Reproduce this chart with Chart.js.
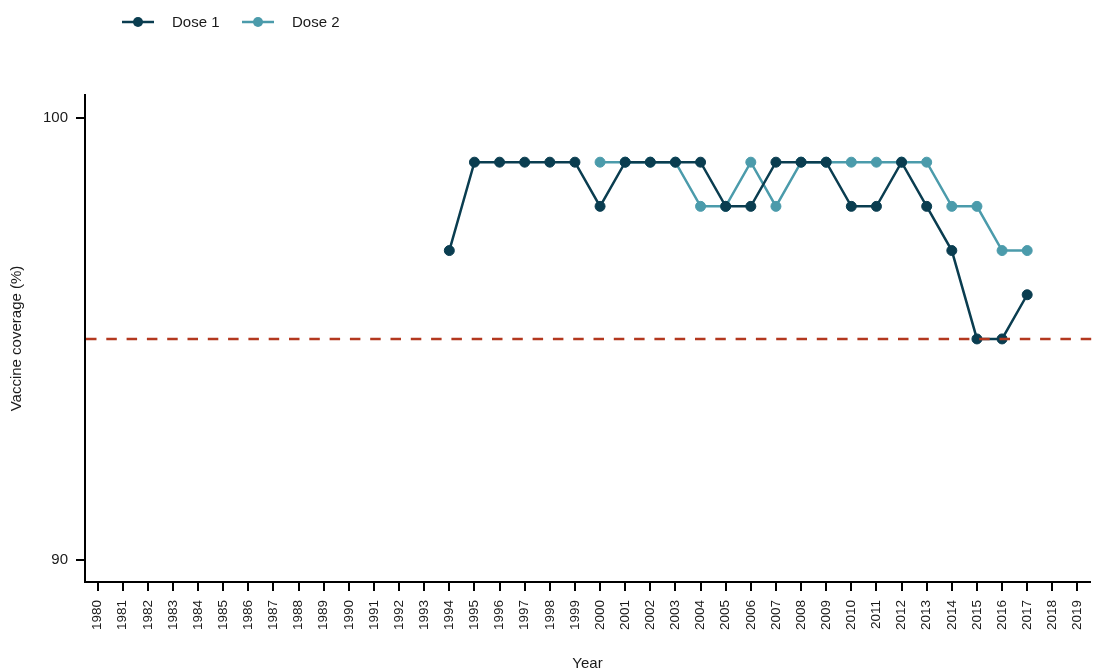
<!DOCTYPE html>
<html lang="en">
<head>
    <meta charset="UTF-8">
    <title>Vaccine coverage</title>
    <script src="https://cdn.jsdelivr.net/npm/chart.js"></script>
    <style>
        body { margin: 0; background: #fff; }
    </style>
</head>
<body>
    <canvas id="myChart" width="1096" height="669"></canvas>

    <script>
        // Year categories on the x axis
        const years = ['1980', '1981', '1982', '1983', '1984', '1985', '1986', '1987', '1988', '1989',
                       '1990', '1991', '1992', '1993', '1994', '1995', '1996', '1997', '1998', '1999',
                       '2000', '2001', '2002', '2003', '2004', '2005', '2006', '2007', '2008', '2009',
                       '2010', '2011', '2012', '2013', '2014', '2015', '2016', '2017', '2018', '2019'];

        // Coverage (%) by year, first dose
        const dose1Years = ['1994', '1995', '1996', '1997', '1998', '1999', '2000', '2001', '2002', '2003', '2004', '2005',
                            '2006', '2007', '2008', '2009', '2010', '2011', '2012', '2013', '2014', '2015', '2016', '2017'];
        const dose1Values = [97, 99, 99, 99, 99, 99, 98, 99, 99, 99, 99, 98,
                             98, 99, 99, 99, 98, 98, 99, 98, 97, 95, 95, 96];

        // Coverage (%) by year, second dose
        const dose2Years = ['2000', '2001', '2002', '2003', '2004', '2005', '2006', '2007', '2008',
                            '2009', '2010', '2011', '2012', '2013', '2014', '2015', '2016', '2017'];
        const dose2Values = [99, 99, 99, 99, 98, 98, 99, 98, 99,
                             99, 99, 99, 99, 99, 98, 98, 97, 97];

        const yTicks = [90, 100];
        const targetCoverage = 95;

        const dose1Color = '#0a3d50';
        const dose2Color = '#4b9bab';
        const targetColor = '#b3381f';
        const fontFamily = '"Liberation Sans", Arial, sans-serif';

        // spread a series over all years, leaving gaps where there is no value
        function toSeries(seriesYears, values) {
            return years.map(y => {
                const i = seriesYears.indexOf(y);
                return i === -1 ? null : values[i];
            });
        }

        // dashed target line across the full plot width
        const targetLine = {
            id: 'targetLine',
            afterDatasetsDraw(chart) {
                const { ctx, chartArea, scales } = chart;
                const y = scales.y.getPixelForValue(targetCoverage);
                ctx.save();
                ctx.strokeStyle = targetColor;
                ctx.lineWidth = 2.5;
                ctx.setLineDash([10.5, 9.8]);
                ctx.beginPath();
                ctx.moveTo(chartArea.left + 1, y);
                ctx.lineTo(chartArea.right + 4, y);
                ctx.stroke();
                ctx.restore();
            }
        };

        // legend entries drawn as line + dot, like the series themselves
        const lineLegend = {
            id: 'lineLegend',
            afterDraw(chart) {
                const ctx = chart.ctx;
                const y = 22;
                const starts = [122, 242];
                ctx.save();
                chart.data.datasets.forEach((ds, i) => {
                    const x = starts[i];
                    ctx.strokeStyle = ds.borderColor;
                    ctx.lineWidth = 2.5;
                    ctx.beginPath();
                    ctx.moveTo(x, y);
                    ctx.lineTo(x + 32, y);
                    ctx.stroke();
                    ctx.fillStyle = ds.backgroundColor;
                    ctx.beginPath();
                    ctx.arc(x + 16, y, 5, 0, Math.PI * 2);
                    ctx.fill();
                    ctx.fillStyle = '#1a1a1a';
                    ctx.font = '15px ' + fontFamily;
                    ctx.textBaseline = 'middle';
                    ctx.fillText(ds.label, x + 50, y + 1);
                });
                ctx.restore();
            }
        };

        const ctx = document.getElementById('myChart').getContext('2d');
        const myChart = new Chart(ctx, {
            type: 'line',
            data: {
                labels: years,
                datasets: [
                    {
                        label: 'Dose 1',
                        data: toSeries(dose1Years, dose1Values),
                        borderColor: dose1Color,
                        backgroundColor: dose1Color,
                        borderWidth: 2.5,
                        pointRadius: 5,
                        pointBorderWidth: 1,
                        tension: 0
                    },
                    {
                        label: 'Dose 2',
                        data: toSeries(dose2Years, dose2Values),
                        borderColor: dose2Color,
                        backgroundColor: dose2Color,
                        borderWidth: 2.5,
                        pointRadius: 5,
                        pointBorderWidth: 1,
                        tension: 0
                    }
                ]
            },
            options: {
                responsive: false,
                animation: false,
                layout: { padding: { top: 95, right: -2, left: 0, bottom: 0 } },
                plugins: {
                    legend: { display: false },
                    tooltip: { enabled: false }
                },
                scales: {
                    x: {
                        offset: true,
                        grid: { display: true, drawOnChartArea: false, drawTicks: true, tickLength: 9, color: '#000', lineWidth: 2, offset: false },
                        border: { display: true, color: '#000', width: 2 },
                        ticks: {
                            color: '#1a1a1a',
                            font: { family: fontFamily, size: 13.5 },
                            minRotation: 90,
                            maxRotation: 90,
                            autoSkip: false,
                            padding: 9
                        },
                        title: {
                            display: true,
                            text: 'Year',
                            color: '#1a1a1a',
                            font: { family: fontFamily, size: 15, lineHeight: 1 },
                            padding: { top: 0, bottom: -2 }
                        },
                        afterFit(scale) {
                            scale.height = 87;
                            scale.paddingLeft = 0;
                            scale.paddingRight = 0;
                        }
                    },
                    y: {
                        min: 89.5,
                        max: 100.52,
                        afterBuildTicks(scale) { scale.ticks = yTicks.map(v => ({ value: v })); },
                        grid: { display: true, drawOnChartArea: false, drawTicks: true, tickLength: 9, color: '#000', lineWidth: 2 },
                        border: { display: true, color: '#000', width: 2 },
                        ticks: {
                            color: '#1a1a1a',
                            font: { family: fontFamily, size: 15 },
                            padding: 8
                        },
                        title: {
                            display: true,
                            text: 'Vaccine coverage (%)',
                            color: '#1a1a1a',
                            font: { family: fontFamily, size: 15 },
                            padding: { top: 8, bottom: 0 }
                        },
                        afterFit(scale) {
                            scale.width = 85;
                            scale.paddingTop = 0;
                            scale.paddingBottom = 0;
                        }
                    }
                }
            },
            plugins: [targetLine, lineLegend]
        });
    </script>
</body>
</html>
